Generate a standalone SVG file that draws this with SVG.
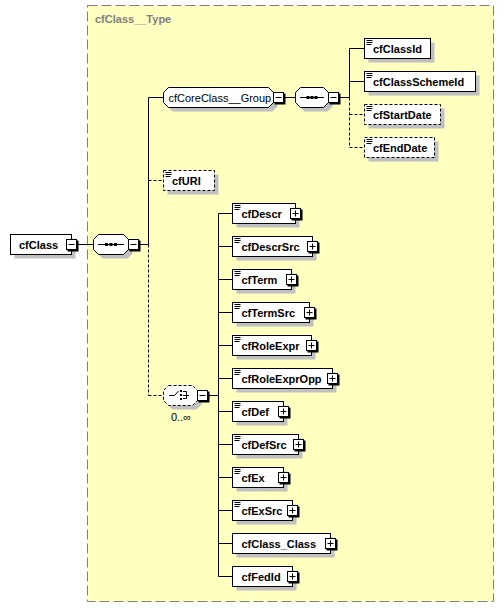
<svg xmlns="http://www.w3.org/2000/svg" width="504" height="608" viewBox="0 0 504 608">
<defs>
<style>
text{font-family:"Liberation Sans",Arial,sans-serif;font-size:11px;fill:#000}
.b{font-weight:bold}
.title{font-weight:bold;fill:#808080}
.sh{fill:#C0C0C0;stroke:none}
.box{fill:#fff;stroke:#000;stroke-width:1}
.opt{fill:#fff;stroke:#000;stroke-width:1;stroke-dasharray:3,2}
.ln{fill:none;stroke:#000;stroke-width:1}
.dl{fill:none;stroke:#000;stroke-width:1;stroke-dasharray:3,2}
.ic{stroke:#000;stroke-width:1;fill:none}
.btn{fill:#fff;stroke:#000;stroke-width:1}
.bsh{fill:#000}
</style>
<g id="ico"><path class="ic" d="M1.5 1.5H7.5M1.5 3.5H7.5M1.5 5.5H6.5"/></g>
<g id="plus"><rect class="bsh" x="1" y="1" width="11" height="11"/><rect class="btn" x="0" y="0" width="10" height="10"/><path class="ic" d="M2 5H8M5 2V8"/></g>
<g id="minus"><rect class="bsh" x="1" y="1" width="11" height="11"/><rect class="btn" x="0" y="0" width="10" height="10"/><path class="ic" d="M2 5H8"/></g>
</defs>
<rect x="87.5" y="5.5" width="406" height="596" fill="#FFFFC0" stroke="#808080" stroke-dasharray="10,4"/>
<text class="title" x="95" y="23">cfClass__Type</text>

<g id="connectors">
<path class="ln" d="M76.5 244.5H93.5M138.5 244.5H148.5M148.5 97.5V244.5M148.5 97.5H163.5"/>
<path class="dl" d="M148.5 244.5V395.5M148.5 180.5H163.5M148.5 395.5H163.5"/>
<path class="ln" d="M283.5 97.5H295.5M338.5 97.5H349.5M349.5 48.5V97.5M349.5 48.5H364.5M349.5 81.5H364.5"/>
<path class="dl" d="M349.5 97.5V147.5M349.5 114.5H364.5M349.5 147.5H364.5"/>
<path class="ln" d="M207.5 395.5H218.5M218.5 213.5V576.5M218.5 213.5H232.5M218.5 246.5H232.5M218.5 279.5H232.5M218.5 312.5H232.5M218.5 345.5H232.5M218.5 378.5H232.5M218.5 411.5H232.5M218.5 444.5H232.5M218.5 477.5H232.5M218.5 510.5H232.5M218.5 543.5H232.5M218.5 576.5H232.5"/>
</g>

<g id="cfClass">
<rect class="sh" x="14.5" y="238.5" width="61" height="20"/>
<rect class="box" x="10.5" y="234.5" width="61" height="20"/>
<text class="b" x="19" y="248.5">cfClass</text>
<use href="#minus" x="66.5" y="239.5"/>
</g>

<g id="seq_main">
<polygon class="sh" points="102.5,238.5 127.5,238.5 132.5,243.5 132.5,253.5 127.5,258.5 102.5,258.5 97.5,253.5 97.5,243.5"/>
<polygon class="box" points="98.5,234.5 123.5,234.5 128.5,239.5 128.5,249.5 123.5,254.5 98.5,254.5 93.5,249.5 93.5,239.5"/>
<path class="ic" d="M98 244.5H124"/>
<rect x="105" y="243" width="3" height="3"/><rect x="109.5" y="243" width="3" height="3"/><rect x="114" y="243" width="3" height="3"/>
<use href="#minus" x="128.5" y="239.5"/>
</g>

<g id="cfCoreClass__Group">
<polygon class="sh" points="172.5,91.5 272.5,91.5 277.5,96.5 277.5,106.5 272.5,111.5 172.5,111.5 167.5,106.5 167.5,96.5"/>
<polygon class="box" points="168.5,87.5 268.5,87.5 273.5,92.5 273.5,102.5 268.5,107.5 168.5,107.5 163.5,102.5 163.5,92.5"/>
<text x="168.5" y="101.5">cfCoreClass__Group</text>
<use href="#minus" x="273.5" y="92.5"/>
</g>

<g id="seq_group">
<polygon class="sh" points="304.5,91.5 327.5,91.5 332.5,96.5 332.5,106.5 327.5,111.5 304.5,111.5 299.5,106.5 299.5,96.5"/>
<polygon class="box" points="300.5,87.5 323.5,87.5 328.5,92.5 328.5,102.5 323.5,107.5 300.5,107.5 295.5,102.5 295.5,92.5"/>
<path class="ic" d="M300 97.5H324"/>
<rect x="306.5" y="96" width="3" height="3"/><rect x="310.5" y="96" width="3" height="3"/><rect x="314.5" y="96" width="3" height="3"/>
<use href="#minus" x="328.5" y="92.5"/>
</g>

<g id="cfClassId">
<rect class="sh" x="368.5" y="42.5" width="66" height="20"/>
<rect class="box" x="364.5" y="38.5" width="66" height="20"/>
<use href="#ico" x="365" y="39"/>
<text class="b" x="373" y="52.5">cfClassId</text>
</g>
<g id="cfClassSchemeId">
<rect class="sh" x="368.5" y="75.5" width="111" height="20"/>
<rect class="box" x="364.5" y="71.5" width="111" height="20"/>
<use href="#ico" x="365" y="72"/>
<text class="b" x="373" y="85.5">cfClassSchemeId</text>
</g>
<g id="cfStartDate">
<rect class="sh" x="368.5" y="108.5" width="76" height="20"/>
<rect class="opt" x="364.5" y="104.5" width="76" height="20"/>
<use href="#ico" x="365" y="105"/>
<text class="b" x="373" y="118.5">cfStartDate</text>
</g>
<g id="cfEndDate">
<rect class="sh" x="368.5" y="141.5" width="70" height="20"/>
<rect class="opt" x="364.5" y="137.5" width="70" height="20"/>
<use href="#ico" x="365" y="138"/>
<text class="b" x="373" y="151.5">cfEndDate</text>
</g>

<g id="cfURI">
<rect class="sh" x="167.5" y="174.5" width="51" height="20"/>
<rect class="opt" x="163.5" y="170.5" width="51" height="20"/>
<use href="#ico" x="164" y="171"/>
<text class="b" x="172" y="184.5">cfURI</text>
</g>

<g id="choice">
<polygon class="sh" points="172.5,389.5 196.5,389.5 201.5,394.5 201.5,404.5 196.5,409.5 172.5,409.5 167.5,404.5 167.5,394.5"/>
<polygon class="opt" points="168.5,385.5 192.5,385.5 197.5,390.5 197.5,400.5 192.5,405.5 168.5,405.5 163.5,400.5 163.5,390.5"/>
<path class="ic" d="M169 395.5H174.5L178.5 391"/>
<rect x="180" y="390" width="2" height="2"/><rect x="180" y="394" width="2" height="2"/><rect x="180" y="398" width="2" height="2"/>
<path class="ic" d="M183 391.5H186.5V398.5H183M183 395.5H189"/>
<use href="#minus" x="197.5" y="390.5"/>
<text x="171" y="421">0..∞</text>
</g>

<g id="cfDescr">
<rect class="sh" x="236.5" y="207.5" width="63" height="20"/>
<rect class="box" x="232.5" y="203.5" width="63" height="20"/>
<use href="#ico" x="233" y="204"/>
<text class="b" x="241.5" y="217.5">cfDescr</text>
<use href="#plus" x="290.5" y="208.5"/>
</g>
<g id="cfDescrSrc">
<rect class="sh" x="236.5" y="240.5" width="80" height="20"/>
<rect class="box" x="232.5" y="236.5" width="80" height="20"/>
<use href="#ico" x="233" y="237"/>
<text class="b" x="241.5" y="250.5">cfDescrSrc</text>
<use href="#plus" x="307.5" y="241.5"/>
</g>
<g id="cfTerm">
<rect class="sh" x="236.5" y="273.5" width="59" height="20"/>
<rect class="box" x="232.5" y="269.5" width="59" height="20"/>
<use href="#ico" x="233" y="270"/>
<text class="b" x="241.5" y="283.5">cfTerm</text>
<use href="#plus" x="286.5" y="274.5"/>
</g>
<g id="cfTermSrc">
<rect class="sh" x="236.5" y="306.5" width="77" height="20"/>
<rect class="box" x="232.5" y="302.5" width="77" height="20"/>
<use href="#ico" x="233" y="303"/>
<text class="b" x="241.5" y="316.5">cfTermSrc</text>
<use href="#plus" x="304.5" y="307.5"/>
</g>
<g id="cfRoleExpr">
<rect class="sh" x="236.5" y="339.5" width="79" height="20"/>
<rect class="box" x="232.5" y="335.5" width="79" height="20"/>
<use href="#ico" x="233" y="336"/>
<text class="b" x="241.5" y="349.5">cfRoleExpr</text>
<use href="#plus" x="306.5" y="340.5"/>
</g>
<g id="cfRoleExprOpp">
<rect class="sh" x="236.5" y="372.5" width="100" height="20"/>
<rect class="box" x="232.5" y="368.5" width="100" height="20"/>
<use href="#ico" x="233" y="369"/>
<text class="b" x="241.5" y="382.5">cfRoleExprOpp</text>
<use href="#plus" x="327.5" y="373.5"/>
</g>
<g id="cfDef">
<rect class="sh" x="236.5" y="405.5" width="51" height="20"/>
<rect class="box" x="232.5" y="401.5" width="51" height="20"/>
<use href="#ico" x="233" y="402"/>
<text class="b" x="241.5" y="415.5">cfDef</text>
<use href="#plus" x="278.5" y="406.5"/>
</g>
<g id="cfDefSrc">
<rect class="sh" x="236.5" y="438.5" width="66" height="20"/>
<rect class="box" x="232.5" y="434.5" width="66" height="20"/>
<use href="#ico" x="233" y="435"/>
<text class="b" x="241.5" y="448.5">cfDefSrc</text>
<use href="#plus" x="293.5" y="439.5"/>
</g>
<g id="cfEx">
<rect class="sh" x="236.5" y="471.5" width="51" height="20"/>
<rect class="box" x="232.5" y="467.5" width="51" height="20"/>
<use href="#ico" x="233" y="468"/>
<text class="b" x="241.5" y="481.5">cfEx</text>
<use href="#plus" x="278.5" y="472.5"/>
</g>
<g id="cfExSrc">
<rect class="sh" x="236.5" y="504.5" width="60" height="20"/>
<rect class="box" x="232.5" y="500.5" width="60" height="20"/>
<use href="#ico" x="233" y="501"/>
<text class="b" x="241.5" y="514.5">cfExSrc</text>
<use href="#plus" x="287.5" y="505.5"/>
</g>
<g id="cfClass_Class">
<rect class="sh" x="236.5" y="537.5" width="98" height="20"/>
<rect class="box" x="232.5" y="533.5" width="98" height="20"/>
<text class="b" x="241.5" y="547.5">cfClass_Class</text>
<use href="#plus" x="325.5" y="538.5"/>
</g>
<g id="cfFedId">
<rect class="sh" x="236.5" y="570.5" width="60" height="20"/>
<rect class="box" x="232.5" y="566.5" width="60" height="20"/>
<text class="b" x="241.5" y="580.5">cfFedId</text>
<use href="#plus" x="287.5" y="571.5"/>
</g>
</svg>
